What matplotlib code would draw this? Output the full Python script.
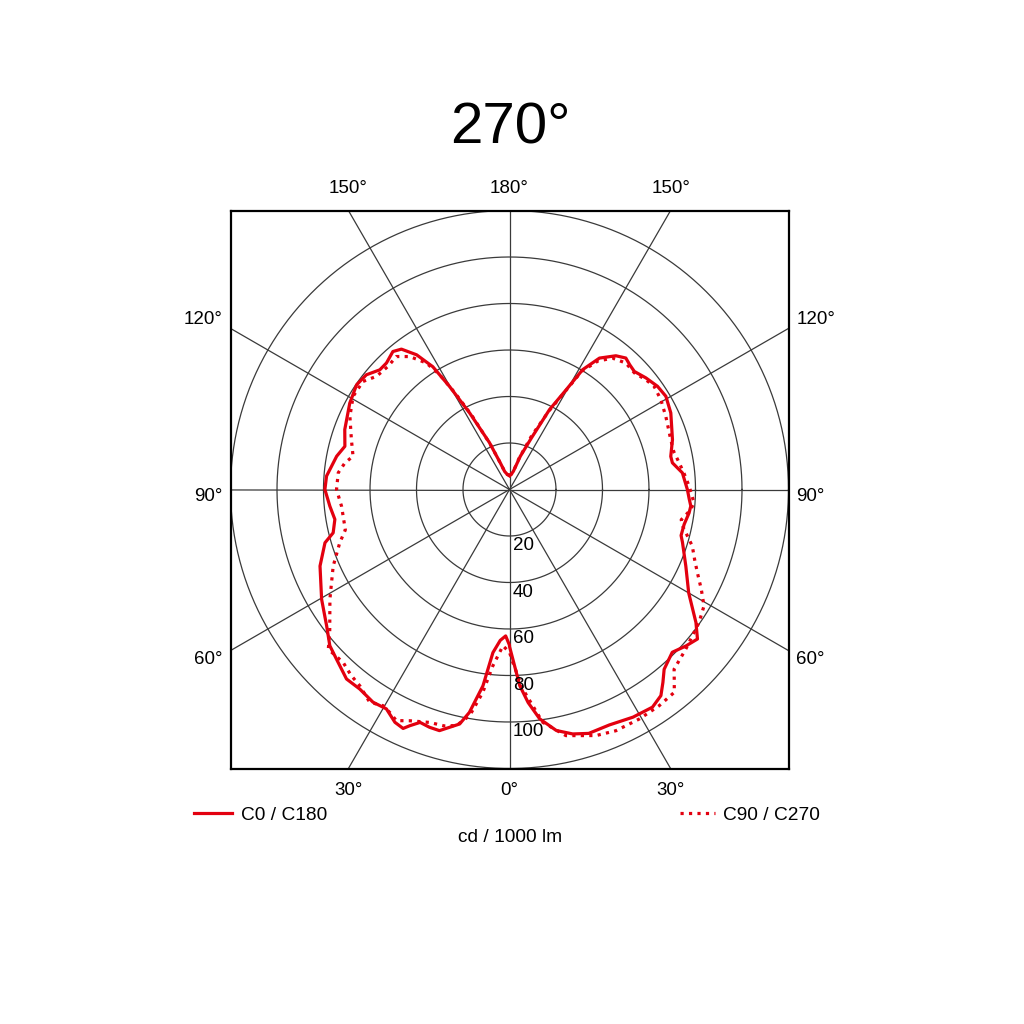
import numpy as np
import matplotlib
matplotlib.use('Agg')
import matplotlib.pyplot as plt

plt.rcParams['font.family'] = ['Liberation Sans', 'DejaVu Sans']

RED = '#e3000f'
GRID = '#3a3a3a'

# gamma in degrees from nadir, intensity in cd / 1000 lm
c0_gamma = [0, 3, 5, 7.5, 11, 14.5, 18, 23, 28.5, 33.3, 36.3, 38.5, 40.7, 45, 48.4,
            51.5, 54.5, 60, 66.5, 73, 75, 78.7, 82.6, 84.8, 87, 90, 95.5, 99.3, 101.6,
            107, 115.4, 120.8, 124.9, 129.3, 133.4, 136, 138.5, 141.5, 145.6, 148.6,
            150.4, 153.4, 157, 162, 168, 174, 180]
c0_cd = [67.5, 84.5, 92, 99.5, 105.6, 108.6, 110.3, 110, 111.4, 112, 110, 106, 102, 99, 101.4,
         103.3, 98.5, 89, 82.7, 77.8, 76.4, 76.6, 77.9, 78.3, 77.4, 76.5, 74.7, 71, 70.8,
         73.3, 76.8, 78.3, 77.6, 75.8, 73.9, 74.5, 75.5, 73.5, 68.5, 60.4,
         49.3, 38.4, 24, 15, 8, 6.5, 6]

c180_gamma = [0, 1.5, 3.5, 5.8, 7.7, 10.2, 12, 16.2, 18.6, 21, 22.9, 24, 26.2, 29.3, 32.7,
              36.9, 40.7, 45.6, 49, 53.3, 59.7, 68, 73.9, 76.2, 80.3, 84.7, 90, 94.2, 100.9,
              104.7, 110, 118.4, 124.4, 128.7, 132.7, 135.8, 139.8, 142.4, 145.4, 148, 149.8,
              152.5, 156.8, 161, 165, 172, 180]
c180_cd = [67, 63, 65, 70.5, 85.2, 97.4, 103.1, 108, 107.9, 107.3, 110.3, 112.5, 111.6, 108.2, 108.7,
           107.3, 107.5, 104.2, 102.4, 98.1, 93.6, 87.9, 82.6, 78.1, 76.2, 77.6, 79.4, 78.9, 75.7,
           73.2, 75.4, 78.1, 79.7, 78.9, 75.9, 75.9, 77.7, 76.2, 70.4, 62.3, 51.3,
           37.1, 22, 12, 8, 6.5, 6]

c90_gamma = [0, 1.1, 3.8, 8.1, 12.9, 19.4, 23.8, 29.5, 34.7, 39.1, 41, 42.5, 47.8, 54.9, 59.1,
             62.5, 66.1, 69.2, 72.8, 77.9, 80, 83.7, 86, 91, 95, 98.9, 103, 107.2, 115, 120.7,
             125.5, 128.8, 133, 137.4, 141.9, 145.5, 148.6, 150.4, 153.4, 157.6, 163, 168, 174, 180]
c90_cd = [70, 74.4, 86, 101.1, 108.6, 112.2, 113.4, 113.4, 113.1, 112.4, 108, 104.8, 102.3, 99.6, 97.5,
          93, 88.4, 85.2, 82.3, 76.3, 75, 78.5, 79.5, 77.3, 75.5, 73.9, 72.5, 72.6, 74.2, 75.7,
          76.4, 75.3, 73.5, 73.9, 71.8, 67, 59.5, 48.5, 37.5, 25, 14, 8, 6.5, 6]

c270_gamma = [0, 2.4, 5.4, 7.5, 10, 12.7, 15.5, 18.9, 23.3, 26.1, 28, 30.3, 33.3, 37.3, 40.5,
              43.9, 48.6, 51.5, 58.6, 66.5, 72.6, 76.2, 84.3, 90, 95.6, 99.2, 102, 107.5, 114.6,
              120.8, 126.4, 130.4, 135.4, 139.6, 143.1, 146.7, 148.7, 150.5, 153, 157, 161, 165,
              172, 180]
c270_cd = [70, 67.3, 76.2, 88, 98.8, 104.1, 105.5, 105.9, 108.3, 110.7, 109, 107.7, 109.5, 106.2, 105,
           103.2, 103.9, 98.8, 90.5, 82.7, 76.5, 72.7, 72.6, 74.4, 74, 71.7, 68.8, 71.3, 75.5,
           78.3, 78.3, 75.1, 74.4, 75.1, 71.5, 65.1, 57.8, 48, 36, 21, 12, 8,
           6.5, 6]

rings = [20, 40, 60, 80, 100, 120]
ring_labels = ['20', '40', '60', '80', '100']
spoke_angles = np.arange(0, 360, 30)
angle_labels = [0, 30, 60, 90, 120, 150, 180]
R = 120


def to_xy(gamma, cd, side):
    g = np.radians(gamma)
    cd = np.asarray(cd, dtype=float)
    return side * cd * np.sin(g), -cd * np.cos(g)


def curve(right_g, right_cd, left_g, left_cd):
    xr, yr = to_xy(right_g, right_cd, 1)
    xl, yl = to_xy(left_g, left_cd, -1)
    return np.concatenate([xl[::-1], xr]), np.concatenate([yl[::-1], yr])


fig = plt.figure(figsize=(10.24, 10.24), dpi=100)
ax = fig.add_axes([230.5 / 1024, 255.5 / 1024, 558 / 1024, 558 / 1024])
ax.set_xlim(-R, R)
ax.set_ylim(-R, R)
ax.set_xticks([])
ax.set_yticks([])
for s in ax.spines.values():
    s.set_linewidth(1.6)
    s.set_color('black')

t = np.linspace(0, 2 * np.pi, 400)
for r in rings:
    ax.plot(r * np.cos(t), r * np.sin(t), color=GRID, lw=0.9, zorder=1)
for a in spoke_angles:
    g = np.radians(a)
    ax.plot([0, 300 * np.sin(g)], [0, -300 * np.cos(g)], color=GRID, lw=0.9, zorder=1)

x, y = curve(c90_gamma, c90_cd, c270_gamma, c270_cd)
dotted, = ax.plot(x, y, color=RED, lw=2.3, ls=':', zorder=3)
x, y = curve(c0_gamma, c0_cd, c180_gamma, c180_cd)
solid, = ax.plot(x, y, color=RED, lw=2.3, solid_joinstyle='round', zorder=4)

# radial scale along nadir
for r, lab in zip(rings, ring_labels):
    ax.text(1.5, -(r + 4.3), lab, fontsize=13.5, ha='left', va='center', zorder=5)

# angle labels round the box
for a in angle_labels:
    g = np.radians(a)
    sx, sy = np.sin(g), -np.cos(g)
    k = R / max(abs(sx), abs(sy))
    ex, ey = sx * k, sy * k
    if abs(sy) >= abs(sx) - 1e-9:
        ty = np.sign(sy) * (R + 9.6)
        for side in ([1, -1] if abs(ex) > 1e-6 else [1]):
            ax.text(side * ex, ty, f'{a}°', fontsize=13.5, ha='center', va='center', clip_on=False)
    else:
        ty = ey + (np.sign(ey) * 4.0 if abs(ey) > 1e-6 else -2.8)
        ax.text(-R - 3.5, ty, f'{a}°', fontsize=13.5, ha='right', va='center', clip_on=False)
        ax.text(R + 3.3, ty, f'{a}°', fontsize=13.5, ha='left', va='center', clip_on=False)

leg1 = ax.legend([solid], ['C0 / C180'], loc='center left',
                 bbox_to_anchor=(194 / 1024, 1 - 815 / 1024), bbox_transform=fig.transFigure,
                 frameon=False, borderpad=0, borderaxespad=0, handlelength=2.0,
                 handletextpad=0.45, fontsize=13.8)
ax.add_artist(leg1)
ax.legend([dotted], ['C90 / C270'], loc='center left',
          bbox_to_anchor=(680 / 1024, 1 - 815 / 1024), bbox_transform=fig.transFigure,
          frameon=False, borderpad=0, borderaxespad=0, handlelength=1.8,
          handletextpad=0.45, fontsize=13.8)

fig.text(510 / 1024, 1 - 837 / 1024, 'cd / 1000 lm', fontsize=13.8, ha='center', va='center')
fig.text(510 / 1024, 1 - 128 / 1024, '270°', fontsize=42, ha='center', va='center')

fig.savefig('out.png', dpi=100, facecolor='white')
